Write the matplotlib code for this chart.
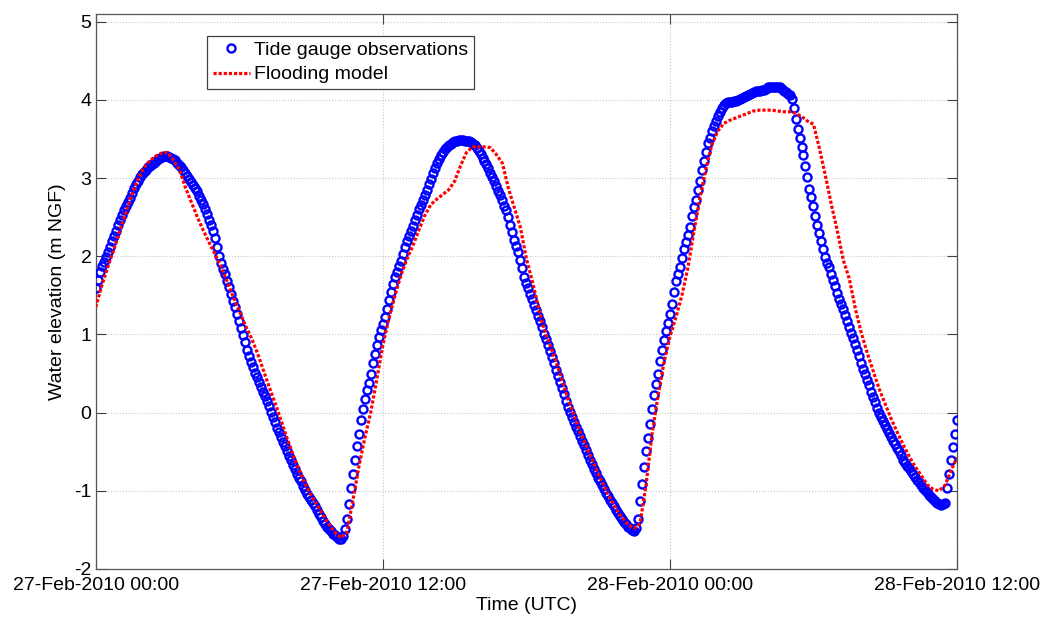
import numpy as np
import pandas as pd
import matplotlib
matplotlib.use('Agg')
import matplotlib.pyplot as plt
import matplotlib.dates as mdates

plt.rcParams['font.family'] = ['Liberation Sans', 'DejaVu Sans']
plt.rcParams['axes.unicode_minus'] = False

Fsize = 14

# tide gauge, 5 min samples from 27-Feb-2010 00:00 (one row per hour)
obs_start = '2010-02-27 00:00'
obs_step = '5min'
obs_elev = [
    1.60, 1.70, 1.80, 1.87, 1.93, 1.99, 2.05, 2.12, 2.19, 2.26, 2.33, 2.40,
    2.47, 2.53, 2.59, 2.64, 2.70, 2.75, 2.81, 2.87, 2.92, 2.97, 3.01, 3.05,
    3.08, 3.11, 3.14, 3.16, 3.18, 3.20, 3.22, 3.24, 3.26, 3.27, 3.28, 3.28,
    3.28, 3.27, 3.26, 3.25, 3.23, 3.20, 3.17, 3.14, 3.10, 3.07, 3.03, 2.99,
    2.95, 2.91, 2.87, 2.83, 2.77, 2.72, 2.67, 2.61, 2.54, 2.47, 2.40, 2.33,
    2.24, 2.12, 2.00, 1.92, 1.84, 1.77, 1.69, 1.61, 1.52, 1.43, 1.35, 1.26,
    1.17, 1.08, 0.99, 0.90, 0.80, 0.72, 0.65, 0.58, 0.51, 0.45, 0.39, 0.33,
    0.27, 0.21, 0.15, 0.08, 0.01, -0.05, -0.12, -0.19, -0.25, -0.31, -0.37, -0.43,
    -0.49, -0.55, -0.61, -0.67, -0.72, -0.78, -0.83, -0.88, -0.94, -0.99, -1.04, -1.08,
    -1.12, -1.16, -1.20, -1.25, -1.30, -1.34, -1.38, -1.42, -1.46, -1.49, -1.52, -1.55,
    -1.57, -1.59, -1.61, -1.62, -1.58, -1.49, -1.36, -1.17, -0.96, -0.79, -0.61, -0.43,
    -0.27, -0.10, 0.05, 0.18, 0.29, 0.38, 0.50, 0.63, 0.75, 0.86, 0.97, 1.06,
    1.14, 1.22, 1.33, 1.44, 1.55, 1.64, 1.73, 1.80, 1.87, 1.94, 2.03, 2.12,
    2.19, 2.26, 2.32, 2.39, 2.46, 2.53, 2.60, 2.66, 2.72, 2.78, 2.85, 2.92,
    2.99, 3.06, 3.13, 3.19, 3.25, 3.30, 3.34, 3.37, 3.40, 3.42, 3.44, 3.46,
    3.47, 3.48, 3.49, 3.49, 3.49, 3.48, 3.48, 3.47, 3.46, 3.44, 3.42, 3.39,
    3.35, 3.31, 3.26, 3.22, 3.18, 3.13, 3.07, 3.02, 2.96, 2.90, 2.84, 2.78,
    2.72, 2.65, 2.59, 2.50, 2.40, 2.31, 2.21, 2.13, 2.05, 1.95, 1.85, 1.74,
    1.66, 1.59, 1.52, 1.45, 1.38, 1.31, 1.24, 1.17, 1.09, 1.01, 0.94, 0.86,
    0.79, 0.71, 0.63, 0.55, 0.47, 0.39, 0.32, 0.24, 0.15, 0.07, 0.01, -0.06,
    -0.12, -0.18, -0.24, -0.30, -0.36, -0.42, -0.48, -0.54, -0.60, -0.66, -0.72, -0.77,
    -0.83, -0.88, -0.93, -0.98, -1.03, -1.07, -1.12, -1.16, -1.20, -1.24, -1.28, -1.32,
    -1.36, -1.40, -1.43, -1.46, -1.48, -1.50, -1.51, -1.48, -1.36, -1.13, -0.91, -0.69,
    -0.49, -0.32, -0.14, 0.05, 0.22, 0.37, 0.50, 0.66, 0.80, 0.93, 1.04, 1.15,
    1.26, 1.39, 1.55, 1.68, 1.78, 1.86, 1.98, 2.09, 2.18, 2.27, 2.37, 2.52,
    2.63, 2.72, 2.85, 2.97, 3.10, 3.22, 3.34, 3.45, 3.52, 3.60, 3.67, 3.73,
    3.79, 3.85, 3.90, 3.94, 3.96, 3.97, 3.98, 3.98, 3.99, 3.99, 4.00, 4.01,
    4.03, 4.04, 4.05, 4.07, 4.08, 4.09, 4.10, 4.11, 4.11, 4.12, 4.13, 4.13,
    4.14, 4.16, 4.17, 4.17, 4.17, 4.17, 4.16, 4.16, 4.14, 4.12, 4.10, 4.08,
    4.06, 4.01, 3.90, 3.76, 3.63, 3.52, 3.40, 3.29, 3.16, 3.01, 2.86, 2.76,
    2.64, 2.52, 2.40, 2.30, 2.20, 2.10, 1.99, 1.92, 1.86, 1.78, 1.70, 1.62,
    1.53, 1.46, 1.39, 1.33, 1.25, 1.17, 1.09, 1.02, 0.96, 0.88, 0.80, 0.72,
    0.64, 0.56, 0.49, 0.42, 0.35, 0.27, 0.20, 0.13, 0.06, -0.01, -0.06, -0.11,
    -0.16, -0.21, -0.26, -0.31, -0.36, -0.40, -0.45, -0.49, -0.54, -0.60, -0.64, -0.68,
    -0.71, -0.75, -0.78, -0.82, -0.86, -0.89, -0.92, -0.96, -0.99, -1.02, -1.05, -1.08,
    -1.10, -1.13, -1.15, -1.17, -1.18, -1.17, -1.15, -0.96, -0.79, -0.61, -0.44, -0.27,
    -0.09,
]

# flooding model output, 15 min steps (one row per 3 h)
mod_step = '15min'
mod_elev = [
    1.35, 1.62, 1.86, 2.08, 2.32, 2.55, 2.78, 2.98, 3.13, 3.22, 3.28, 3.32,
    3.33, 3.23, 3.11, 2.88, 2.69, 2.50, 2.33, 2.17, 2.02, 1.86, 1.67, 1.48,
    1.30, 1.12, 0.96, 0.77, 0.55, 0.33, 0.12, -0.10, -0.33, -0.54, -0.73, -0.91,
    -1.05, -1.18, -1.31, -1.43, -1.53, -1.60, -1.53, -1.12, -0.69, -0.32, 0.01, 0.43,
    0.86, 1.20, 1.49, 1.75, 1.96, 2.13, 2.33, 2.52, 2.66, 2.73, 2.79, 2.85,
    2.96, 3.16, 3.33, 3.40, 3.40, 3.40, 3.39, 3.30, 3.19, 2.87, 2.62, 2.37,
    1.97, 1.68, 1.35, 1.06, 0.86, 0.64, 0.41, 0.17, -0.04, -0.25, -0.42, -0.60,
    -0.78, -0.94, -1.09, -1.23, -1.34, -1.43, -1.48, -1.42, -0.93, -0.28, 0.21, 0.64,
    0.97, 1.22, 1.50, 1.85, 2.31, 2.74, 3.11, 3.43, 3.60, 3.70, 3.74, 3.77,
    3.80, 3.83, 3.86, 3.87, 3.87, 3.87, 3.86, 3.85, 3.85, 3.83, 3.79, 3.73,
    3.69, 3.38, 3.03, 2.66, 2.32, 1.95, 1.71, 1.33, 1.02, 0.76, 0.53, 0.30,
    0.11, -0.08, -0.25, -0.41, -0.56, -0.69, -0.80, -0.92, -0.98, -1.00, -0.93, -0.74,
    -0.57,
]

t_obs = pd.date_range(obs_start, periods=len(obs_elev), freq=obs_step)
t_mod = pd.date_range(obs_start, periods=len(mod_elev), freq=mod_step)

fig = plt.figure(figsize=(10.45, 6.17), dpi=100)
ax = fig.add_axes([0.0916, 0.0778, 0.8242, 0.8995])

ax.plot(t_obs, obs_elev, 'o', mfc='none', mec='blue', ms=5.8, mew=1.7,
        label='Tide gauge observations', zorder=3)
ax.plot(t_mod, mod_elev, color='red', lw=2.3, ls=(0, (1, 0.6)),
        label='Flooding model', zorder=4)

ax.set_xlim(pd.Timestamp('2010-02-27 00:00'), pd.Timestamp('2010-02-28 12:00'))
ax.set_ylim(-2, 5.1)
ax.set_yticks(np.arange(-2, 6, 1))
ax.xaxis.set_major_locator(mdates.HourLocator(byhour=[0, 12]))
ax.xaxis.set_major_formatter(mdates.DateFormatter('%d-%b-%Y %H:%M'))

ax.grid(True, ls=':', color='#c8c8c8', lw=0.8)
ax.tick_params(direction='in', length=7, width=0.8, top=True, right=True,
               labelsize=Fsize, color='#404040')
ax.tick_params(axis='x', pad=6)
ax.tick_params(axis='y', pad=3)
for s in ax.spines.values():
    s.set_color('#555555')
    s.set_linewidth(0.9)

ax.set_xlabel('Time (UTC)', fontsize=Fsize, labelpad=2)
ax.set_ylabel('Water elevation (m NGF)', fontsize=Fsize, labelpad=6)

leg = ax.legend(loc='upper left', bbox_to_anchor=(0.129, 0.961), fontsize=Fsize,
                fancybox=False, framealpha=1, edgecolor='#404040',
                borderpad=0.3, labelspacing=0.34, handlelength=1.9,
                handletextpad=0.25, borderaxespad=0)
leg.get_frame().set_linewidth(0.9)

plt.savefig('out.png', dpi=100)
